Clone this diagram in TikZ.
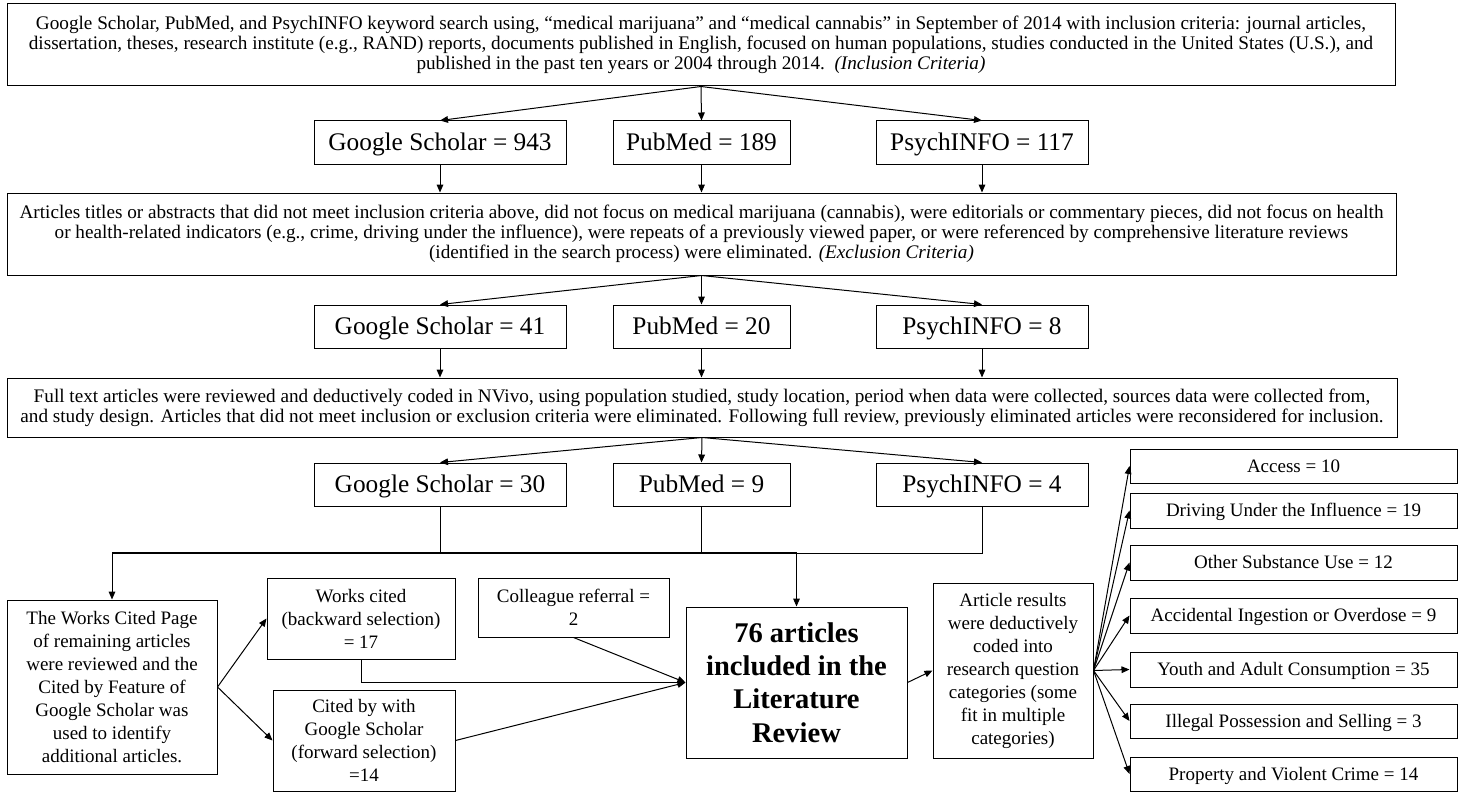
\documentclass[tikz,border=0pt]{standalone}
\usepackage{fontspec}
\setmainfont{Liberation Serif}
\usetikzlibrary{arrows.meta}
\newcommand\bx[7]{\node[#6, minimum width={(#4-(#2))*0.75pt}, minimum height={(#5-(#3))*0.75pt}] (#1) at ({(#2+#4)/2},{(#3+#5)/2}) {#7};}
\tikzset{
  box/.style={draw, line width=0.75pt, inner sep=0pt, align=center, font=\fontsize{14.25pt}{17.25pt}\selectfont},
  para/.style={box, font=\fontsize{14.4pt}{15pt}\selectfont},
  cnt/.style={box, font=\fontsize{19pt}{22pt}\selectfont, text height=13.5pt, text depth=1pt},
  big/.style={box, font=\fontsize{21.4pt}{25pt}\selectfont\bfseries},
  cat/.style={box, font=\fontsize{14.25pt}{17pt}\selectfont, text height=10pt, text depth=0.6pt},
  arr/.style={-{Triangle[length=6pt,width=5pt]}, line width=0.75pt},
  ln/.style={line width=0.75pt},
  thickln/.style={line width=1.4pt}
}
\begin{document}
\begin{tikzpicture}[x=0.75pt,y=-0.75pt]
\useasboundingbox (0,0) rectangle (1468,792);
% big text boxes
\bx{top}{7}{4}{1395}{86}{para}{Google Scholar, PubMed, and PsychINFO keyword search using, “medical marijuana” and “medical cannabis” in September of 2014 with inclusion criteria: journal articles,\\dissertation, theses, research institute (e.g., RAND) reports, documents published in English, focused on human populations, studies conducted in the United States (U.S.), and\\published in the past ten years or 2004 through 2014.\ \ \textit{(Inclusion Criteria)}}
\bx{excl}{7}{193}{1396}{275}{para}{Articles titles or abstracts that did not meet inclusion criteria above, did not focus on medical marijuana (cannabis), were editorials or commentary pieces, did not focus on health\\or health-related indicators (e.g., crime, driving under the influence), were repeats of a previously viewed paper, or were referenced by comprehensive literature reviews\\(identified in the search process) were eliminated. \textit{(Exclusion Criteria)}}
\bx{full}{7}{378}{1397}{437}{para}{Full text articles were reviewed and deductively coded in NVivo, using population studied, study location, period when data were collected, sources data were collected from,\\and study design. Articles that did not meet inclusion or exclusion criteria were eliminated. Following full review, previously eliminated articles were reconsidered for inclusion.}
% count rows
\bx{a1}{314}{121}{566}{164}{cnt}{Google Scholar = 943}
\bx{a2}{613}{121}{790}{164}{cnt}{PubMed = 189}
\bx{a3}{876}{121}{1088}{164}{cnt}{PsychINFO = 117}
\bx{b1}{314}{305}{566}{348}{cnt}{Google Scholar = 41}
\bx{b2}{613}{305}{790}{348}{cnt}{PubMed = 20}
\bx{b3}{876}{305}{1088}{348}{cnt}{PsychINFO = 8}
\bx{c1}{314}{463}{566}{506}{cnt}{Google Scholar = 30}
\bx{c2}{613}{463}{790}{506}{cnt}{PubMed = 9}
\bx{c3}{876}{463}{1088}{506}{cnt}{PsychINFO = 4}
% lower part
\bx{wcp}{7}{600}{217}{774}{box}{The Works Cited Page\\of remaining articles\\were reviewed and the\\Cited by Feature of\\Google Scholar was\\used to identify\\additional articles.}
\bx{wc}{267}{578}{455}{659}{box}{Works cited\\(backward selection)\\= 17}
\bx{cb}{273}{690}{455}{791}{box}{Cited by with\\Google Scholar\\(forward selection)\\=14}
\bx{cr}{478}{578}{669}{637}{box}{Colleague referral =\\2}
\bx{lit}{686}{607}{907}{758}{big}{76 articles\\included in the\\Literature\\Review}
\bx{art}{933}{583}{1093}{758}{box}{Article results\\were deductively\\coded into\\research question\\categories (some\\fit in multiple\\categories)}
% categories
\bx{k1}{1130}{449}{1457}{483}{cat}{Access = 10}
\bx{k2}{1130}{493}{1457}{528}{cat}{Driving Under the Influence = 19}
\bx{k3}{1130}{545}{1457}{580}{cat}{Other Substance Use = 12}
\bx{k4}{1130}{598}{1457}{633}{cat}{Accidental Ingestion or Overdose = 9}
\bx{k5}{1130}{652}{1457}{687}{cat}{Youth and Adult Consumption = 35}
\bx{k6}{1130}{704}{1457}{738}{cat}{Illegal Possession and Selling = 3}
\bx{k7}{1130}{757}{1457}{791}{cat}{Property and Violent Crime = 14}
% connectors top part
\foreach \n in {a1,a2,a3}{\draw[arr] (top.south) -- (\n.north);}
\foreach \n in {a1,a2,a3}{\draw[arr] (\n.south) -- (\n.south |- excl.north);}
\foreach \n in {b1,b2,b3}{\draw[arr] (excl.south) -- (\n.north);}
\foreach \n in {b1,b2,b3}{\draw[arr] (\n.south) -- (\n.south |- full.north);}
\foreach \n in {c1,c2,c3}{\draw[arr] (full.south) -- (\n.north);}
% junction
\coordinate (jL) at (112,553);
\coordinate (jM) at (796.5,553);
\draw[ln] (c1.south) -- (c1.south |- jL);
\draw[ln] (c2.south) -- (c2.south |- jL);
\draw[ln] (c3.south) -- (c3.south |- jL) -- (jM);
\draw[thickln] (jL) -- (jM);
\draw[arr] (jL) -- (wcp.north);
\draw[arr] (jM) -- (lit.north);
% lower connectors
\draw[arr] (wcp.east) -- (wc.west);
\draw[arr] (wcp.east) -- (cb.west);
\draw[arr] (wc.south) -- (wc.south |- lit.west) -- (lit.west);
\draw[arr] (cr.south) -- (lit.west);
\draw[arr] (cb.east) -- (lit.west);
\draw[arr] (lit.east) -- (art.west);
\foreach \n in {k1,k2,k3,k4,k5,k6,k7}{\draw[arr] (art.east) -- (\n.west);}
\end{tikzpicture}
\end{document}
